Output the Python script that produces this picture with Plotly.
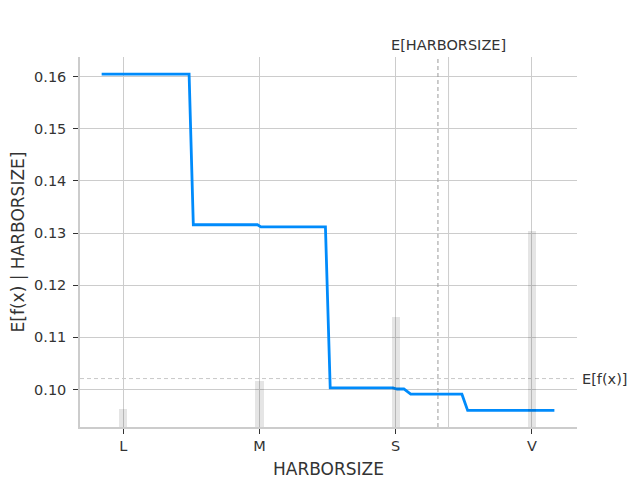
import plotly.graph_objects as go

# ---- data ----
categories = ["L", "M", "S", "V"]
category_codes = [0, 1, 2, 3]
hist_fraction = [0.048, 0.123, 0.298, 0.531]

pd_x = [-0.159, 0.483, 0.514, 0.985, 1.01, 1.484, 1.519, 1.98, 2.01, 2.06, 2.11, 2.486, 2.528, 3.165]
pd_y = [0.1605, 0.1605, 0.1316, 0.1316, 0.1312, 0.1312, 0.1003, 0.1003, 0.1001, 0.1001, 0.0991, 0.0991, 0.0960, 0.0960]

mean_feature_line = 2.310      # dashed vertical line
mean_feature_tick = 2.388      # top-axis tick "E[HARBORSIZE]"
expected_value = 0.1021        # E[f(x)]

feature_name = "HARBORSIZE"
x_range = [-0.318, 3.331]
y_range = [0.09281, 0.16378]

grid_col = "#cccccc"
text_col = "#333333"
font_family = "DejaVu Sans"

fig = go.Figure()

# histogram bars (fraction of samples) on secondary y axis
fig.add_trace(go.Bar(
    x=category_codes, y=hist_fraction, width=0.06,
    marker=dict(color="rgba(0,0,0,0.1)", line=dict(width=0)),
    yaxis="y2", showlegend=False, hoverinfo="skip",
))

# partial dependence line
fig.add_trace(go.Scatter(
    x=pd_x, y=pd_y, mode="lines",
    line=dict(color="#008bfb", width=2.8),
    showlegend=False,
))

shapes = [
    dict(type="line", xref="x", yref="paper", x0=mean_feature_tick, x1=mean_feature_tick, y0=0, y1=1,
         line=dict(color=grid_col, width=1), layer="below"),
    dict(type="line", xref="x", yref="paper", x0=mean_feature_line, x1=mean_feature_line, y0=0, y1=1,
         line=dict(color="#999999", width=1, dash="4px,3px"), layer="above"),
    dict(type="line", xref="paper", yref="y", x0=0, x1=1, y0=expected_value, y1=expected_value,
         line=dict(color="#c8c8c8", width=1, dash="4px,3px"), layer="below"),
]

annotations = [
    dict(text="E[" + feature_name + "]", xref="x", yref="paper", x=mean_feature_tick, y=1,
         xanchor="center", yanchor="bottom", yshift=2, showarrow=False,
         font=dict(size=14.5, color=text_col, family=font_family)),
    dict(text="E[f(x)]", xref="paper", yref="y", x=1, y=expected_value,
         xanchor="left", yanchor="middle", xshift=3, showarrow=False,
         font=dict(size=14.5, color=text_col, family=font_family)),
]

fig.update_layout(
    width=632, height=472,
    margin=dict(l=72, r=63, t=49, b=53, autoexpand=False),
    plot_bgcolor="white", paper_bgcolor="white",
    font=dict(family=font_family, color=text_col, size=14),
    shapes=shapes, annotations=annotations,
    bargap=0,
    xaxis=dict(
        range=x_range, tickvals=category_codes, ticktext=categories,
        showgrid=True, gridcolor=grid_col, gridwidth=1, zeroline=False,
        showline=True, linecolor="#cccccc", linewidth=1.5,
        ticks="outside", ticklen=5, tickcolor="#333333", tickwidth=1.2,
        tickfont=dict(size=14.5, color=text_col),
        title=dict(text=feature_name, font=dict(size=17, color=text_col), standoff=10),
    ),
    yaxis=dict(
        range=y_range, tickvals=[0.10, 0.11, 0.12, 0.13, 0.14, 0.15, 0.16],
        tickformat=".2f",
        showgrid=True, gridcolor=grid_col, gridwidth=1, zeroline=False,
        showline=True, linecolor="#cccccc", linewidth=1.5,
        ticks="outside", ticklen=5, tickcolor="#333333", tickwidth=1.2,
        ticklabelstandoff=4,
        tickfont=dict(size=14.5, color=text_col),
        title=dict(text="E[f(x) | " + feature_name + "]", font=dict(size=17, color=text_col), standoff=6),
    ),
    yaxis2=dict(
        range=[0, 1], overlaying="y", side="right", visible=False,
        showgrid=False, zeroline=False,
    ),
)

fig.write_html("out.html")
